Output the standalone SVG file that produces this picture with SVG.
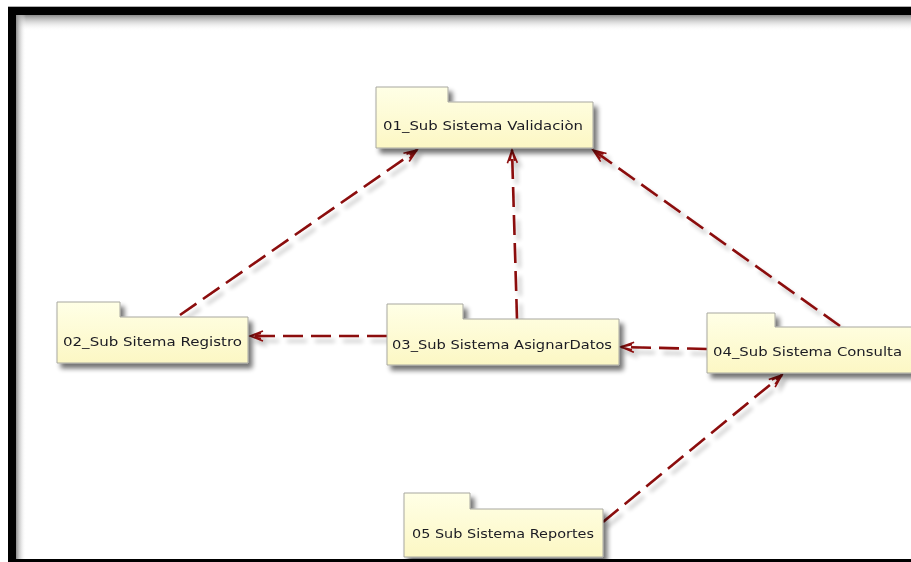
<svg xmlns="http://www.w3.org/2000/svg" width="911" height="562" viewBox="0 0 911 562">
<defs>
<linearGradient id="pkg" x1="0" y1="0" x2="0" y2="1">
<stop offset="0" stop-color="#FFFFE6"/>
<stop offset="1" stop-color="#FCF7C4"/>
</linearGradient>
<linearGradient id="topShade" x1="0" y1="0" x2="0" y2="1">
<stop offset="0" stop-color="#8A8A8A"/>
<stop offset="1" stop-color="#FFFFFF" stop-opacity="0"/>
</linearGradient>
<linearGradient id="leftShade" x1="0" y1="0" x2="1" y2="0">
<stop offset="0" stop-color="#8A8A8A"/>
<stop offset="1" stop-color="#FFFFFF" stop-opacity="0"/>
</linearGradient>
<filter id="shadow" x="-10%" y="-20%" width="130%" height="160%">
<feGaussianBlur in="SourceAlpha" stdDeviation="2.5"/>
<feOffset dx="4" dy="5" result="b"/>
<feComponentTransfer><feFuncA type="linear" slope="0.55"/></feComponentTransfer>
<feMerge><feMergeNode/><feMergeNode in="SourceGraphic"/></feMerge>
</filter>
<filter id="lshadow" x="-20%" y="-20%" width="140%" height="140%">
<feGaussianBlur in="SourceAlpha" stdDeviation="2"/>
<feOffset dx="4" dy="5" result="b"/>
<feComponentTransfer><feFuncA type="linear" slope="0.25"/></feComponentTransfer>
<feMerge><feMergeNode/><feMergeNode in="SourceGraphic"/></feMerge>
</filter>
<marker id="arr" markerWidth="16" markerHeight="12" refX="14" refY="6" orient="auto" markerUnits="userSpaceOnUse">
<path d="M1,1 L14,6 L1,11 M3,3.5 L14,6 L3,8.5" fill="none" stroke="#8B0A0A" stroke-width="1.6"/>
</marker>
</defs>
<style>
.pkg{fill:url(#pkg);stroke:#A8A8A0;stroke-width:1}
.lbl{font-family:"DejaVu Sans",Verdana,sans-serif;font-size:13px;fill:#1A1A22}
.dep{fill:none;stroke:#8B0A0A;stroke-width:2.6;stroke-dasharray:20 8}
</style>
<rect x="0" y="0" width="911" height="562" fill="#FFFFFF"/>
<!-- frame -->
<rect x="16" y="15" width="895" height="16" fill="url(#topShade)"/>
<rect x="16" y="15" width="10" height="545" fill="url(#leftShade)"/>
<rect x="8" y="6" width="903" height="1" fill="#B0B0B0"/>
<rect x="8" y="7" width="903" height="8" fill="#000000"/>
<rect x="8" y="7" width="8" height="555" fill="#000000"/>
<rect x="8" y="559" width="903" height="3" fill="#000000"/>

<g id="connectors" filter="url(#lshadow)">
<line class="dep" x1="180" y1="315" x2="417" y2="150" marker-end="url(#arr)"/>
<line class="dep" x1="517" y1="319" x2="512" y2="150" marker-end="url(#arr)"/>
<line class="dep" x1="840" y1="326" x2="593" y2="150" marker-end="url(#arr)"/>
<line class="dep" x1="387" y1="336" x2="250" y2="336" marker-end="url(#arr)"/>
<line class="dep" x1="707" y1="349" x2="621" y2="347" marker-end="url(#arr)"/>
<line class="dep" x1="603" y1="522" x2="782" y2="375" marker-end="url(#arr)"/>
</g>

<g id="n01" filter="url(#shadow)">
<path class="pkg" d="M376,87 H448 V102 H593 V148 H376 Z"/>
<text class="lbl" x="383" y="130" textLength="200" lengthAdjust="spacingAndGlyphs">01_Sub Sistema Validaciòn</text>
</g>
<g id="n02" filter="url(#shadow)">
<path class="pkg" d="M57,302 H120 V317 H248 V363 H57 Z"/>
<text class="lbl" x="63" y="346" textLength="179" lengthAdjust="spacingAndGlyphs">02_Sub Sitema Registro</text>
</g>
<g id="n03" filter="url(#shadow)">
<path class="pkg" d="M387,304 H463 V319 H619 V365 H387 Z"/>
<text class="lbl" x="392" y="349" textLength="220" lengthAdjust="spacingAndGlyphs">03_Sub Sistema AsignarDatos</text>
</g>
<g id="n04" filter="url(#shadow)">
<path class="pkg" d="M707,313 H775 V327 H912 V373 H707 Z"/>
<text class="lbl" x="713" y="356" textLength="189" lengthAdjust="spacingAndGlyphs">04_Sub Sistema Consulta</text>
</g>
<g id="n05" filter="url(#shadow)">
<path class="pkg" d="M404,493 H470 V509 H603 V557 H404 Z"/>
<text class="lbl" x="412" y="538" textLength="182" lengthAdjust="spacingAndGlyphs">05 Sub Sistema Reportes</text>
</g>
</svg>
